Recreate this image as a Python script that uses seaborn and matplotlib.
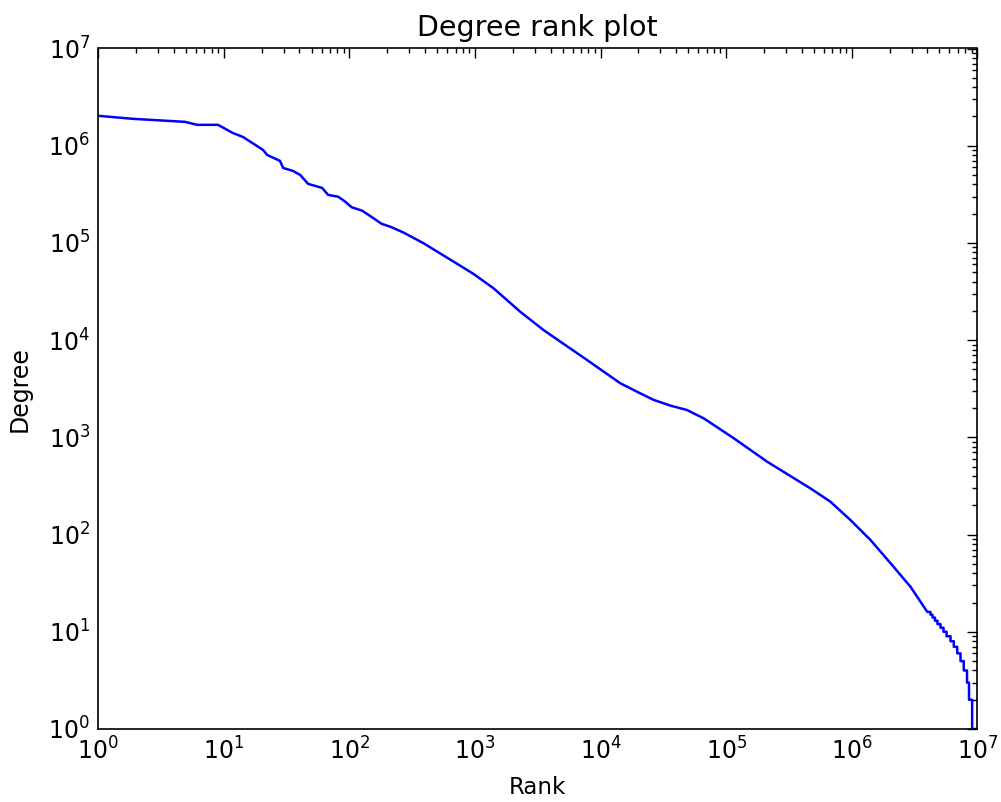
import numpy as np
import pandas as pd
import matplotlib
matplotlib.use("Agg")
import matplotlib.pyplot as plt
import matplotlib.ticker as mticker
import seaborn as sns

# ---- data (rank, degree) ----
rank_main = [1, 1.89, 4.91, 6.11, 8.99, 11.8, 14.2, 20.5, 22.1, 28.0, 29.6, 35.6,
             40.5, 46.9, 60.6, 67.6, 81.3, 92.4, 104, 126, 138, 151, 181, 211,
             269, 389, 675, 973, 1403, 2291, 3514, 4775, 7798, 14360, 20000, 26420,
             36000, 48780, 66200, 1.15e5, 2.12e5, 4.68e5, 6.76e5, 9.77e5, 1.41e6,
             2.03e6, 2.94e6, 4.0e6]
degree_main = [2.03e6, 1.89e6, 1.76e6, 1.64e6, 1.64e6, 1.35e6, 1.23e6, 9.06e5,
               8.04e5, 6.98e5, 5.91e5, 5.50e5, 5.01e5, 4.05e5, 3.68e5, 3.12e5,
               2.99e5, 2.66e5, 2.33e5, 2.15e5, 1.99e5, 1.84e5, 1.57e5, 1.47e5,
               1.28e5, 9.93e4, 6.42e4, 4.80e4, 3.42e4, 1.96e4, 1.27e4, 9.66e3,
               6.25e3, 3.60e3, 2.90e3, 2.43e3, 2.12e3, 1.91e3, 1.57e3, 979, 562,
               299, 218, 141, 88, 51, 29, 17]

# tail: integer degree levels and the first rank holding each level
tail_degree = [16, 15, 14, 13, 12, 11, 10, 9, 8, 7, 6, 5, 4, 3, 2, 1]
tail_first_rank = [4.0e6, 4.24e6, 4.40e6, 4.60e6, 4.82e6, 5.09e6, 5.38e6, 5.69e6,
                   6.12e6, 6.50e6, 6.92e6, 7.35e6, 7.80e6, 8.28e6, 8.59e6, 9.10e6]
last_rank = 9.68e6

# build step corners for the tail
tr = list(tail_first_rank) + [last_rank]
step_r, step_d = [], []
for i, d in enumerate(tail_degree):
    step_r += [tr[i], tr[i + 1]]
    step_d += [d, d]

ranks = rank_main[:-1] + step_r
degrees = degree_main[:-1] + step_d
df = pd.DataFrame({"Rank": ranks, "Degree": degrees})

sns.set_style("white")
plt.rcParams["font.family"] = ["DejaVu Sans"]
plt.rcParams["mathtext.fontset"] = "dejavusans"
for k in ["text.color", "axes.labelcolor", "xtick.color", "ytick.color"]:
    plt.rcParams[k] = "black"

fig = plt.figure(figsize=(10.01, 8.02), dpi=100)
fig.patch.set_facecolor("white")
ax = fig.add_axes([98.3 / 1001, 1 - 729 / 802, (977.3 - 98.3) / 1001, (729 - 48.5) / 802])

sns.lineplot(data=df, x="Rank", y="Degree", sort=False, estimator=None,
             color="#0000ff", linewidth=1.8, ax=ax)

ax.set_xscale("log")
ax.set_yscale("log")
ax.set_xlim(1, 1e7)
ax.set_ylim(1, 1e7)

for axis in (ax.xaxis, ax.yaxis):
    axis.set_major_locator(mticker.LogLocator(base=10, numticks=20))
    axis.set_minor_locator(mticker.LogLocator(base=10, subs=np.arange(2, 10), numticks=100))
    axis.set_minor_formatter(mticker.NullFormatter())

ax.tick_params(which="both", direction="in", top=True, right=True,
               labelsize=17, color="black", labelcolor="black", width=1.0)
ax.tick_params(which="major", length=7.2, pad=6)
ax.tick_params(which="minor", length=3.6)

for s in ax.spines.values():
    s.set_visible(True)
    s.set_color("black")
    s.set_linewidth(1.2)

ax.set_title("Degree rank plot", fontsize=20.5, pad=9)
ax.set_xlabel("Rank", fontsize=16.5, labelpad=8)
ax.set_ylabel("Degree", fontsize=17, labelpad=12)

fig.savefig("out.png", dpi=100, facecolor="white")
